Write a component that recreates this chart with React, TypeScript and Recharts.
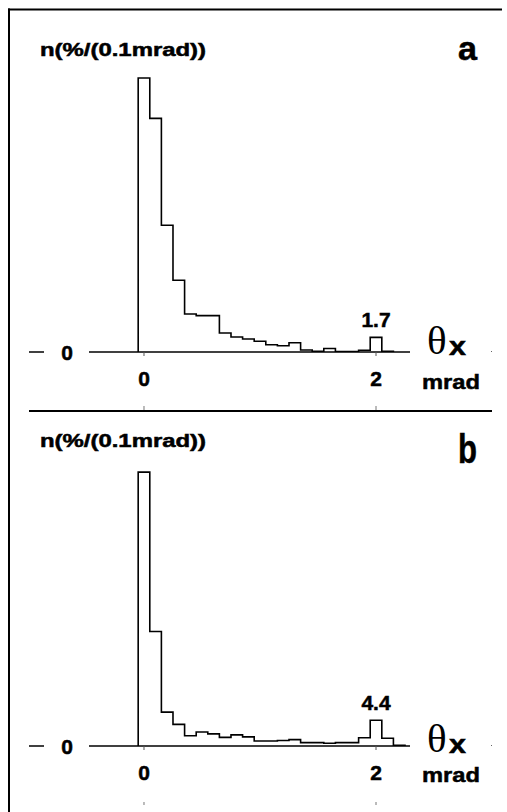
import { LineChart, Line, XAxis, YAxis, ReferenceDot, Label } from 'recharts';

// bin centres in mrad (0.1 mrad bins)
const binCenters = [0, 0.1, 0.2, 0.3, 0.4, 0.5, 0.6, 0.7, 0.8, 0.9, 1.0, 1.1, 1.2, 1.3, 1.4, 1.5, 1.6, 1.7, 1.8, 1.9, 2.0, 2.1, 2.2];
const binWidth = 0.1;

// n in %/(0.1 mrad)
const valuesA = [31.9, 27.2, 14.75, 8.35, 4.42, 4.23, 4.23, 2.21, 1.75, 1.51, 1.25, 0.85, 0.73, 1.07, 0.23, 0.08, 0.41, 0.06, 0.06, 0.2, 1.7, 0.08];
const valuesB = [46.9, 19.6, 5.8, 3.7, 1.75, 2.4, 2.08, 1.48, 1.9, 1.57, 0.86, 0.86, 0.95, 1.1, 0.57, 0.57, 0.46, 0.57, 0.57, 1.42, 4.4, 1.32, 0.1];

const xTicks = [0, 2];
const yTicks = [0];
const peakCenter = 2.0;
const xDomain = [-0.474, 2.293];

const W = 507;
const H = 400;
const M = { top: 60, right: 97, bottom: 8, left: 0 };
const Y_AXIS_W = 89;
const SANS = '"Liberation Sans", Arial, sans-serif';
const SERIF = '"Liberation Serif", "Times New Roman", serif';
// the scanned labels are heavier than a plain bold face
const heavy = { fontFamily: SANS, fontWeight: 700, fill: '#000', stroke: '#000', strokeWidth: 0.5 };

// histogram outline as points for a stepAfter line
function toSteps(values: number[]) {
  const pts = [{ x: binCenters[0] - binWidth / 2, y: 0 }];
  values.forEach((v, i) => pts.push({ x: binCenters[i] - binWidth / 2, y: v }));
  pts.push({ x: binCenters[values.length - 1] + binWidth / 2, y: 0 });
  return pts;
}

// only used for the little decorative marks on the separator line
const xPx = (v: number) => Y_AXIS_W + ((v - xDomain[0]) / (xDomain[1] - xDomain[0])) * (W - Y_AXIS_W - M.right);

const XTick = ({ x, y, payload }: any) => (
  <text x={x} y={y + 28} textAnchor="middle" fontSize={21} {...heavy}>
    {payload.value}
  </text>
);

const YTick = ({ y, payload }: any) => (
  <g>
    <line x1={29} x2={44} y1={y} y2={y} stroke="#000" strokeWidth={1.5} />
    <text x={67} y={y + 8} textAnchor="middle" fontSize={21} {...heavy}>
      {payload.value}
    </text>
  </g>
);

function Panel({ values, yMax, top }: { values: number[]; yMax: number; top: number }) {
  const data = toSteps(values);
  const peakIdx = binCenters.indexOf(peakCenter);
  return (
    <div style={{ position: 'absolute', left: 0, top, width: W, height: H }}>
      <LineChart width={W} height={H} data={data} margin={M}>
        <XAxis
          type="number"
          dataKey="x"
          domain={xDomain}
          allowDataOverflow
          ticks={xTicks}
          height={40}
          tickSize={4}
          axisLine={{ stroke: '#000', strokeWidth: 1.6 }}
          tickLine={{ stroke: '#555' }}
          tick={<XTick />}
        />
        <YAxis
          type="number"
          domain={[0, yMax]}
          allowDataOverflow
          ticks={yTicks}
          width={Y_AXIS_W}
          axisLine={false}
          tickLine={false}
          tick={<YTick />}
        />
        <Line
          type="stepAfter"
          dataKey="y"
          stroke="#000"
          strokeWidth={1.6}
          dot={false}
          isAnimationActive={false}
        />
        <ReferenceDot x={peakCenter} y={values[peakIdx]} r={1} fill="none" stroke="none" ifOverflow="visible">
          <Label
            value={values[peakIdx].toFixed(1)}
            position="top"
            offset={9}
            fontSize={21}
            {...heavy}
          />
        </ReferenceDot>
      </LineChart>
    </div>
  );
}

function PanelText({ top, letter, letterY, letterSize, thetaY, mradY, titleY }: any) {
  return (
    <g transform={`translate(0, ${top})`}>
      <text x={40} y={titleY} fontSize={18} textLength={166} lengthAdjust="spacingAndGlyphs" {...heavy}>
        n(%/(0.1mrad))
      </text>
      <text x={458} y={letterY} fontSize={letterSize} textLength={19} lengthAdjust="spacingAndGlyphs" {...heavy}>
        {letter}
      </text>
      <text x={427} y={thetaY} fontFamily={SERIF} fontSize={41}>θ</text>
      <text x={449} y={thetaY + 1} fontSize={26} textLength={17} lengthAdjust="spacingAndGlyphs" {...heavy}>x</text>
      <text x={422} y={mradY} fontSize={21} textLength={58} lengthAdjust="spacingAndGlyphs" {...heavy}>mrad</text>
      <rect x={491} y={351} width={1} height={1} fill="#666" />
    </g>
  );
}

export default function App() {
  return (
    <div style={{ position: 'absolute', left: 0, top: 0, width: W, height: 812, background: '#fff', overflow: 'hidden' }}>
      <Panel values={valuesA} yMax={34} top={0} />
      <Panel values={valuesB} yMax={50} top={394} />
      <svg width={W} height={812} style={{ position: 'absolute', left: 0, top: 0, pointerEvents: 'none' }}>
        {/* frame */}
        <line x1={9} x2={9} y1={8.5} y2={812} stroke="#000" strokeWidth={2} />
        <line x1={8} x2={502} y1={9.5} y2={9.5} stroke="#000" strokeWidth={2} />
        {/* separator between panels */}
        <line x1={29} x2={492} y1={411} y2={411} stroke="#000" strokeWidth={2} />
        {xTicks.map((t) => (
          <g key={t}>
            <line x1={xPx(t)} x2={xPx(t)} y1={406} y2={410} stroke="#777" />
            <line x1={xPx(t)} x2={xPx(t)} y1={802} y2={805} stroke="#777" />
          </g>
        ))}
        <PanelText top={0} titleY={56} letter="a" letterY={60} letterSize={33} thetaY={354} mradY={389} />
        <PanelText top={394} titleY={53} letter="b" letterY={69} letterSize={41} thetaY={358} mradY={388} />
      </svg>
    </div>
  );
}
